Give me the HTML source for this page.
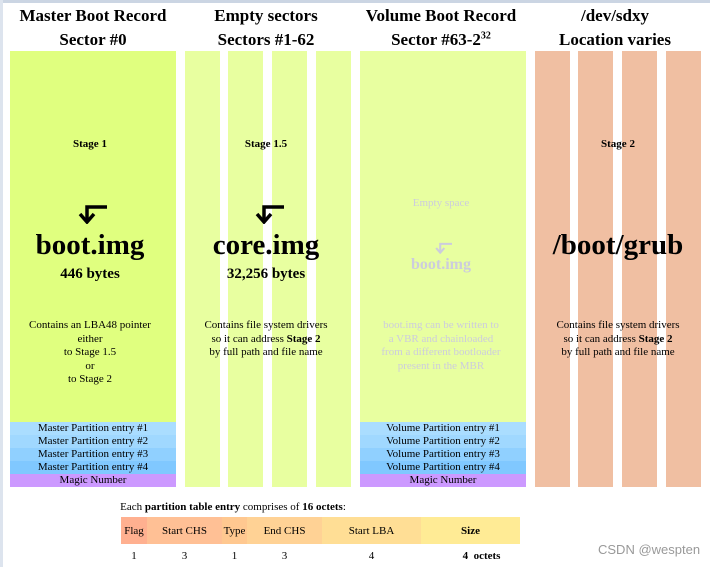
<!DOCTYPE html>
<html><head><meta charset="utf-8"><style>
body{margin:0;width:710px;height:567px;background:#fff;position:relative;overflow:hidden;font-family:"Liberation Serif",serif;color:#000}
.a{position:absolute}
.h{position:absolute;width:180px;text-align:center;font-weight:bold;font-size:17px}
.c{position:absolute;text-align:center}
.s{font-weight:bold;font-size:11px}
.big{font-weight:bold;font-size:29px}
.by{font-weight:bold;font-size:15px}
.d{font-size:11px;line-height:13.5px}
.pe{position:absolute;left:0;width:166px;height:13px;font-size:11px;text-align:center;line-height:13px}
.arr{position:absolute;width:26px;height:18px}
td{padding:0;text-align:center;font-size:11px}
</style></head><body>
<div class="a" style="left:0;top:0;width:710px;height:3px;background:#cbd5e3"></div>
<div class="a" style="left:0;top:0;width:3px;height:567px;background:#dde4ee"></div>

<div class="h" style="left:3px;top:6px">Master Boot Record</div>
<div class="h" style="left:3px;top:30px">Sector #0</div>
<div class="h" style="left:176px;top:6px">Empty sectors</div>
<div class="h" style="left:176px;top:30px">Sectors #1-62</div>
<div class="h" style="left:351px;top:6px">Volume Boot Record</div>
<div class="h" style="left:351px;top:30px">Sector #63-2<sup style="font-size:10px">32</sup></div>
<div class="h" style="left:525px;top:6px">/dev/sdxy</div>
<div class="h" style="left:525px;top:30px">Location varies</div>

<div class="a" style="left:10px;top:51px;width:166px;height:436px;background:#e0ff7f">
  <div class="pe" style="top:371px;background:#aaddff">Master Partition entry #1</div>
  <div class="pe" style="top:384px;background:#a0d8ff">Master Partition entry #2</div>
  <div class="pe" style="top:397px;background:#90d0ff">Master Partition entry #3</div>
  <div class="pe" style="top:410px;background:#80c8ff">Master Partition entry #4</div>
  <div class="pe" style="top:423px;background:#cc99ff">Magic Number</div>
</div>
<div class="a" style="left:185px;top:51px;width:35px;height:436px;background:#e8ffa0"></div>
<div class="a" style="left:228px;top:51px;width:35px;height:436px;background:#e8ffa0"></div>
<div class="a" style="left:272px;top:51px;width:35px;height:436px;background:#e8ffa0"></div>
<div class="a" style="left:316px;top:51px;width:35px;height:436px;background:#e8ffa0"></div>
<div class="a" style="left:360px;top:51px;width:166px;height:436px;background:#e8ffa0">
  <div class="pe" style="top:371px;background:#aaddff">Volume Partition entry #1</div>
  <div class="pe" style="top:384px;background:#a0d8ff">Volume Partition entry #2</div>
  <div class="pe" style="top:397px;background:#90d0ff">Volume Partition entry #3</div>
  <div class="pe" style="top:410px;background:#80c8ff">Volume Partition entry #4</div>
  <div class="pe" style="top:423px;background:#cc99ff">Magic Number</div>
</div>
<div class="a" style="left:535px;top:51px;width:35px;height:436px;background:#f0bfa2"></div>
<div class="a" style="left:578px;top:51px;width:35px;height:436px;background:#f0bfa2"></div>
<div class="a" style="left:622px;top:51px;width:35px;height:436px;background:#f0bfa2"></div>
<div class="a" style="left:666px;top:51px;width:35px;height:436px;background:#f0bfa2"></div>

<div class="c s" style="left:0px;width:180px;top:138px">Stage 1</div>
<div class="c s" style="left:176px;width:180px;top:138px">Stage 1.5</div>
<div class="c s" style="left:528px;width:180px;top:138px">Stage 2</div>
<div class="c d" style="left:351px;width:180px;top:197px;color:#ccd">Empty space</div>

<svg class="arr" style="left:73px;top:204px;width:34px;height:20px" viewBox="0 0 34 20"><path d="M34 3 H14 V16" fill="none" stroke="#000" stroke-width="3.5"/><path d="M7 10 L14 18 L21 10" fill="none" stroke="#000" stroke-width="3.5"/></svg>
<svg class="arr" style="left:250px;top:204px;width:34px;height:20px" viewBox="0 0 34 20"><path d="M34 3 H14 V16" fill="none" stroke="#000" stroke-width="3.5"/><path d="M7 10 L14 18 L21 10" fill="none" stroke="#000" stroke-width="3.5"/></svg>
<svg class="arr" style="left:432px;top:242px;width:20px;height:12px" viewBox="0 0 34 20"><path d="M34 3 H14 V16" fill="none" stroke="#ccd" stroke-width="3.5"/><path d="M7 10 L14 18 L21 10" fill="none" stroke="#ccd" stroke-width="3.5"/></svg>

<div class="c big" style="left:0px;width:180px;top:229px">boot.img</div>
<div class="c by" style="left:0px;width:180px;top:266px">446 bytes</div>
<div class="c big" style="left:176px;width:180px;top:229px">core.img</div>
<div class="c by" style="left:176px;width:180px;top:266px">32,256 bytes</div>
<div class="c" style="left:351px;width:180px;top:256px;font-weight:bold;font-size:16px;color:#ccd">boot.img</div>
<div class="c big" style="left:528px;width:180px;top:229px">/boot/grub</div>

<div class="c d" style="left:0px;width:180px;top:319px">Contains an LBA48 pointer<br>either<br>to Stage 1.5<br>or<br>to Stage 2</div>
<div class="c d" style="left:176px;width:180px;top:319px">Contains file system drivers<br>so it can address <b>Stage 2</b><br>by full path and file name</div>
<div class="c d" style="left:351px;width:180px;top:319px;color:#ccd">boot.img can be written to<br>a VBR and chainloaded<br>from a different bootloader<br>present in the MBR</div>
<div class="c d" style="left:528px;width:180px;top:319px">Contains file system drivers<br>so it can address <b>Stage 2</b><br>by full path and file name</div>

<div class="c d" style="left:100px;width:266px;top:501px">Each <b>partition table entry</b> comprises of <b>16 octets</b>:</div>
<table class="a" style="left:121px;top:517px;width:399px;border-collapse:collapse">
<tr style="height:27px">
<td style="width:26px;background:#ffb090">Flag</td>
<td style="width:75px;background:#ffc095">Start CHS</td>
<td style="width:25px;background:#ffc890">Type</td>
<td style="width:75px;background:#ffd295">End CHS</td>
<td style="width:99px;background:#ffde95">Start LBA</td>
<td style="width:99px;background:#ffeb95;font-weight:bold">Size</td>
</tr>
<tr style="height:20px">
<td style="padding-top:4px">1</td><td style="padding-top:4px">3</td><td style="padding-top:4px">1</td><td style="padding-top:4px">3</td><td style="padding-top:4px">4</td><td style="padding-top:4px;font-weight:bold">&nbsp;&nbsp;&nbsp;&nbsp;&nbsp;&nbsp;&nbsp;&nbsp;4&nbsp; octets</td>
</tr>
</table>
<div class="a" style="left:598px;top:542px;font-family:'Liberation Sans',sans-serif;font-size:13px;color:#999">CSDN @wespten</div>
</body></html>
